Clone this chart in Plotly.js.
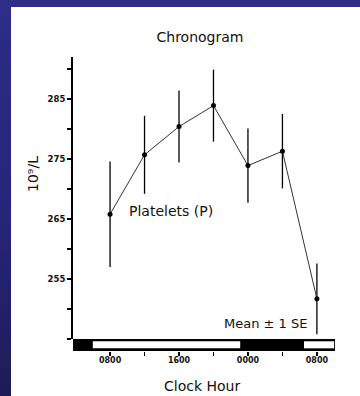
<!DOCTYPE html>
<html>
<head>
<meta charset="utf-8">
<script src="https://cdn.plot.ly/plotly-3.0.1.min.js"></script>
<style>
  html, body { margin: 0; padding: 0; }
  body {
    width: 360px; height: 396px; overflow: hidden; position: relative;
    background: linear-gradient(to bottom, #2e2d88 0%, #262474 60%, #1d1c58 100%);
  }
  #chart { position: absolute; left: 11px; top: 7px; width: 349px; height: 389px; background: #fff; }
</style>
</head>
<body>
<div id="chart"></div>
<script>
// Sampling clock hours (08:00 day 1 through 08:00 day 2, every 4 h)
const clockHours = [8, 12, 16, 20, 24, 28, 32];
// Platelet count, mean and standard error (10^9/L)
const plateletMean = [265.8, 275.7, 280.4, 283.9, 273.9, 276.3, 251.7];
const plateletSE = [8.8, 6.5, 6.0, 6.0, 6.2, 6.2, 5.9];

// Axis ticks: labelled major ticks and unlabelled minor ticks
const xTickVals = [8, 16, 24, 32];
const xTickText = ['0800', '1600', '0000', '0800'];
const xMinorVals = [12, 20, 28];
const yTickVals = [255, 265, 275, 285];
const yTickText = ['255', '265', '275', '285'];
const yMinorVals = [245, 250, 260, 270, 280, 290];

// Light/dark span of the day: [start, end, isDark]
const lightDark = [[3.7, 6.0, true], [6.0, 23.1, false], [23.1, 30.5, true], [30.5, 34.0, false]];

const xRange = [3.7, 34.1];
const yRange = [245, 292];
const barTop = 0.0408;   // paper height of the light/dark strip

const shapes = [{
  type: 'rect', xref: 'x', yref: 'paper',
  x0: xRange[0], x1: xRange[1], y0: 0, y1: barTop,
  fillcolor: '#000', line: { width: 0 }
}];
lightDark.filter(s => !s[2]).forEach(s => {
  shapes.push({
    type: 'rect', xref: 'x', yref: 'paper',
    x0: s[0], x1: s[1], y0: 0.009, y1: 0.033,
    fillcolor: '#fff', line: { width: 0 }
  });
});

const trace = {
  x: clockHours, y: plateletMean, type: 'scatter', mode: 'lines+markers',
  line: { color: '#333', width: 1 },
  marker: { color: '#000', size: 5 },
  error_y: { type: 'data', array: plateletSE, visible: true, color: '#000', thickness: 1.3, width: 0 },
  cliponaxis: false,
  hoverinfo: 'skip'
};

const font = '"DejaVu Sans", Verdana, sans-serif';

const layout = {
  width: 349, height: 389,
  margin: { l: 62, r: 25, t: 50, b: 45 },
  paper_bgcolor: '#fff', plot_bgcolor: 'rgba(0,0,0,0)',
  showlegend: false,
  font: { family: font, color: '#000' },
  title: {
    text: 'Chronogram', font: { size: 14, family: font, color: '#111' },
    xref: 'container', x: 0.5415, xanchor: 'center',
    yref: 'container', y: 0.923, yanchor: 'middle'
  },
  xaxis: {
    range: xRange, anchor: 'free', position: 0,
    showgrid: false, zeroline: false, showline: false,
    tickmode: 'array', tickvals: xTickVals, ticktext: xTickText,
    ticks: 'outside', ticklen: 4, tickwidth: 1.2, tickcolor: '#000',
    ticklabelstandoff: -3,
    tickfont: { size: 8, family: font, color: '#111', weight: 'bold' },
    minor: { tickmode: 'array', tickvals: xMinorVals, ticks: 'outside', ticklen: 4, tickwidth: 1.2, tickcolor: '#000', showgrid: false }
  },
  yaxis: {
    range: yRange, domain: [barTop, 1],
    showgrid: false, zeroline: false,
    showline: true, linewidth: 2, linecolor: '#000',
    tickmode: 'array', tickvals: yTickVals, ticktext: yTickText,
    ticks: 'outside', ticklen: 4, tickwidth: 1.3, tickcolor: '#000',
    tickfont: { size: 8.5, family: font, color: '#111', weight: 'bold' },
    minor: { tickmode: 'array', tickvals: yMinorVals, ticks: 'outside', ticklen: 4, tickwidth: 1.3, tickcolor: '#000', showgrid: false }
  },
  shapes: shapes,
  annotations: [
    { text: '10\u2079/L', xref: 'paper', x: 0, xshift: -40, xanchor: 'center',
      yref: 'y', y: 272.5, yanchor: 'middle', textangle: -90, showarrow: false,
      font: { size: 14, family: font, color: '#111' } },
    { text: 'Platelets (P)', xref: 'x', x: 9.97, xanchor: 'left',
      yref: 'y', y: 266.3, yanchor: 'middle', showarrow: false,
      font: { size: 14, family: font, color: '#111' } },
    { text: 'Mean \u00b1 1 SE', xref: 'x', x: 31.07, xanchor: 'right',
      yref: 'y', y: 247.6, yanchor: 'middle', showarrow: false,
      font: { size: 13, family: font, color: '#111' } },
    { text: 'Clock Hour', xref: 'x', x: 18.67, xanchor: 'center',
      yref: 'paper', y: 0, yshift: -35, yanchor: 'middle', showarrow: false,
      font: { size: 14, family: font, color: '#111' } }
  ]
};

Plotly.newPlot('chart', [trace], layout, { displayModeBar: false, staticPlot: true });
</script>
</body>
</html>
